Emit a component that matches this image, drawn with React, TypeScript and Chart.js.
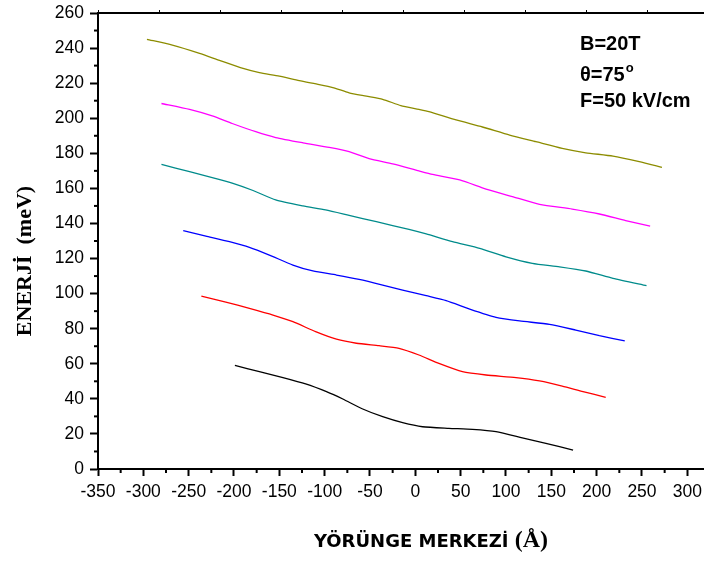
import { useEffect, useRef } from "react";
import { Chart, registerables } from "chart.js";

Chart.register(...registerables);

// ---- data ----
const xTickValues = [-350, -300, -250, -200, -150, -100, -50, 0, 50, 100, 150, 200, 250, 300];
const yTickValues = [0, 20, 40, 60, 80, 100, 120, 140, 160, 180, 200, 220, 240, 260];

const oliveX = [-296, -268, -238, -216, -190, -172, -150, -128, -106, -91, -73, -54, -36, -16, 4, 15, 45, 74, 104, 133, 162, 188, 218, 247, 272];
const oliveY = [245, 241.7, 237, 233, 228.4, 226, 224, 221.4, 219.2, 217.5, 214.5, 212.6, 210.8, 207.2, 205, 203.7, 199, 195, 190.4, 186.6, 182.8, 180.3, 178.4, 175.2, 172];

const magentaX = [-280, -249, -224, -202, -176, -154, -124, -95, -73, -51, -25, 4, 19, 49, 78, 107, 137, 173, 203, 232, 259];
const magentaY = [208.4, 205, 201.3, 197, 192.3, 189, 186, 183.4, 181, 177, 174, 170, 168, 164.8, 159.6, 155.3, 150.9, 148.2, 145.4, 141.6, 138.5];

const tealX = [-280, -249, -224, -202, -179, -154, -124, -99, -73, -43, -7, 12, 41, 71, 100, 129, 159, 188, 218, 255];
const tealY = [173.7, 169.5, 166.2, 163, 158.8, 153.4, 150, 147.7, 144.6, 141, 136.6, 134, 129.6, 125.8, 121, 117.3, 115.3, 112.9, 108.7, 104.5];

const blueX = [-256, -231, -205, -183, -161, -135, -113, -87, -62, -36, -14, 12, 34, 60, 89, 115, 148, 177, 203, 231];
const blueY = [135.9, 132.8, 129.6, 126.4, 122, 116.3, 112.9, 110.6, 108.1, 104.9, 102, 98.8, 96, 91.2, 86.5, 84.4, 82.5, 79.2, 76, 73];

const redX = [-236, -209, -183, -157, -135, -110, -87, -65, -40, -18, 4, 26, 52, 78, 111, 137, 162, 185, 210];
const redY = [98.6, 95.2, 91.6, 87.8, 84, 78.3, 74, 71.7, 70.3, 68.8, 65, 60.2, 55.5, 53.6, 52.1, 50.2, 47.3, 44.1, 40.9];

const blackX = [-199, -172, -146, -121, -98, -80, -58, -36, -14, 8, 37, 63, 89, 118, 144, 174];
const blackY = [59.1, 55.5, 52.1, 48.5, 44.1, 39.9, 34.2, 29.8, 26.4, 24.1, 23.2, 22.6, 21.3, 17.8, 14.6, 10.8];

const seriesList = [
  { xs: oliveX, ys: oliveY, color: "#8c8c00" },
  { xs: magentaX, ys: magentaY, color: "#ff00ff" },
  { xs: tealX, ys: tealY, color: "#008b8b" },
  { xs: blueX, ys: blueY, color: "#0000ff" },
  { xs: redX, ys: redY, color: "#ff0000" },
  { xs: blackX, ys: blackY, color: "#000000" },
];

const yTitle = "ENERJİ  (meV)";
const xTitleMain = "YÖRÜNGE MERKEZİ";
const xTitleUnit = "(Å)";
const annoLine1 = "B=20T";
const annoLine2 = "θ=75";
const annoSup = "o";
const annoLine3 = "F=50 kV/cm";

const SANS = "'Liberation Sans', Arial, sans-serif";

const decorPlugin = {
  id: "decor",
  afterDraw(chart: any) {
    const ctx = chart.ctx as CanvasRenderingContext2D;
    const xs = chart.scales.x;
    const ys = chart.scales.y;
    const area = chart.chartArea;
    ctx.save();
    // minor ticks
    ctx.strokeStyle = "#000";
    ctx.lineWidth = 2;
    for (let i = 0; i < xTickValues.length; i++) {
      const mid = xTickValues[i] + 25;
      const px = xs.getPixelForValue(mid);
      if (px > area.right) continue;
      ctx.beginPath();
      ctx.moveTo(px, area.bottom);
      ctx.lineTo(px, area.bottom + 4);
      ctx.stroke();
    }
    for (let i = 0; i < yTickValues.length - 1; i++) {
      const mid = yTickValues[i] + 10;
      const py = ys.getPixelForValue(mid);
      ctx.beginPath();
      ctx.moveTo(area.left, py);
      ctx.lineTo(area.left - 4, py);
      ctx.stroke();
    }

    // y title
    ctx.fillStyle = "#000";
    ctx.save();
    ctx.translate(25, 261);
    ctx.rotate(-Math.PI / 2);
    ctx.font = "bold 22px 'Liberation Serif', 'Times New Roman', serif";
    ctx.textAlign = "center";
    ctx.textBaseline = "middle";
    ctx.fillText(yTitle, 0, 0);
    ctx.restore();

    // x title
    ctx.textBaseline = "alphabetic";
    ctx.textAlign = "left";
    const f1 = "bold 18px 'DejaVu Sans', Verdana, sans-serif";
    const f2 = "bold 24px 'Liberation Serif', 'Times New Roman', serif";
    ctx.font = f1;
    const w1 = ctx.measureText(xTitleMain + " ").width;
    ctx.font = f2;
    const w2 = ctx.measureText(xTitleUnit).width;
    const startX = 431 - (w1 + w2) / 2;
    ctx.font = f1;
    ctx.fillText(xTitleMain + " ", startX, 547);
    ctx.font = f2;
    ctx.fillText(xTitleUnit, startX + w1, 547);

    // annotations
    ctx.font = `bold 20px ${SANS}`;
    ctx.fillText(annoLine1, 580, 50);
    ctx.fillText(annoLine2, 580, 81);
    const w3 = ctx.measureText(annoLine2).width;
    ctx.font = `bold 13px ${SANS}`;
    ctx.fillText(annoSup, 580 + w3 + 1, 72);
    ctx.font = `bold 20px ${SANS}`;
    ctx.fillText(annoLine3, 580, 107);
    ctx.restore();
  },
};

export default function App() {
  const ref = useRef<HTMLCanvasElement | null>(null);

  useEffect(() => {
    if (!ref.current) return;
    const chart = new Chart(ref.current, {
      type: "scatter",
      data: {
        datasets: seriesList.map((s) => ({
          data: s.xs.map((x, i) => ({ x, y: s.ys[i] })),
          showLine: true,
          borderColor: s.color,
          backgroundColor: s.color,
          borderWidth: 1.3,
          pointRadius: 0,
          tension: 0.2,
          fill: false,
        })),
      },
      options: {
        animation: false,
        responsive: false,
        devicePixelRatio: 1,
        layout: { padding: { left: 0, right: 0, top: 0, bottom: 0 } },
        plugins: { legend: { display: false }, tooltip: { enabled: false } },
        scales: {
          x: {
            type: "linear",
            position: "bottom",
            min: -350,
            max: 318.4,
            afterBuildTicks: (scale: any) => {
              scale.ticks = xTickValues.map((v) => ({ value: v }));
            },
            afterFit: (scale: any) => {
              scale.height = 94;
              scale.paddingLeft = 0;
              scale.paddingRight = 0;
            },
            ticks: {
              autoSkip: false,
              maxRotation: 0,
              color: "#000",
              padding: 6,
              font: { family: SANS, size: 17.5 },
            },
            grid: {
              display: true,
              drawOnChartArea: false,
              drawTicks: true,
              tickLength: 7,
              tickWidth: 2,
              color: "#000",
            },
            border: { display: true, color: "#000", width: 2 },
          },
          x2: {
            type: "linear",
            position: "top",
            min: 0,
            max: 9.93,
            ticks: { display: false, stepSize: 1 },
            afterFit: (scale: any) => {
              scale.height = 13;
              scale.paddingLeft = 0;
              scale.paddingRight = 0;
            },
            grid: {
              display: true,
              drawOnChartArea: false,
              drawTicks: true,
              tickLength: 3,
              tickWidth: 1,
              color: "#000",
            },
            border: { display: true, color: "#000", width: 2 },
          },
          y: {
            type: "linear",
            position: "left",
            min: 0,
            max: 260,
            afterBuildTicks: (scale: any) => {
              scale.ticks = yTickValues.map((v) => ({ value: v }));
            },
            afterFit: (scale: any) => {
              scale.width = 98;
              scale.paddingTop = 0;
              scale.paddingBottom = 0;
            },
            ticks: {
              autoSkip: false,
              color: "#000",
              padding: 6,
              font: { family: SANS, size: 17.5 },
            },
            grid: {
              display: true,
              drawOnChartArea: false,
              drawTicks: true,
              tickLength: 8,
              tickWidth: 2,
              color: "#000",
            },
            border: { display: true, color: "#000", width: 2 },
          },
        },
      } as any,
      plugins: [decorPlugin],
    });
    return () => chart.destroy();
  }, []);

  return (
    <div style={{ position: "fixed", left: 0, top: 0, width: 704, height: 563, background: "#fff" }}>
      <canvas ref={ref} width={704} height={563} style={{ display: "block", width: 704, height: 563 }} />
    </div>
  );
}
